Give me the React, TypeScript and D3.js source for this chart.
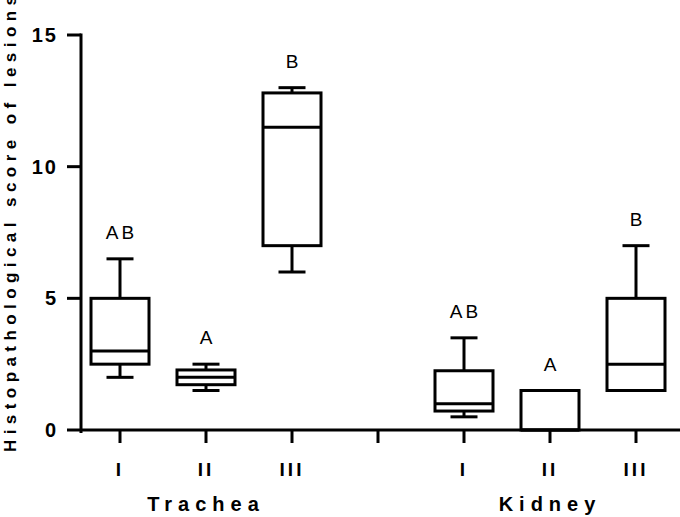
import React from "react";
import * as d3 from "d3";

const slots = ["I", "II", "III", "", "I", "II", "III"];
const groups = ["Trachea", "Kidney"];
const groupCenterSlot = [1, 5];
// box data: slot, whisker min, q1, median, q3, whisker max, letter
const boxSlot = [0, 1, 2, 4, 5, 6];
const wMin = [2, 1.5, 6, 0.5, 0, 1.5];
const q1 = [2.5, 1.72, 7, 0.72, 0, 1.5];
const med = [3, 2, 11.5, 1, 0, 2.5];
const q3 = [5, 2.28, 12.8, 2.25, 1.5, 5];
const wMax = [6.5, 2.5, 13, 3.5, 1.5, 7];
const letters = ["AB", "A", "B", "AB", "A", "B"];
const yTicks = [0, 5, 10, 15];

export default function App() {
  const W = 680, H = 517;
  const x = d3.scaleLinear().domain([0, 6]).range([120, 636]);
  const y = d3.scaleLinear().domain([0, 15]).range([430, 35]);
  const axisX = 81;
  const bw = 29, cw = 13.5;
  const sw = 3;
  const bold = { fontFamily: "Liberation Sans, Arial, sans-serif", fontWeight: 700 as const };
  return (
    <svg width={W} height={H} style={{ position: "absolute", left: 0, top: 0, background: "#fff" }}>
      <g stroke="#000" strokeWidth={sw} fill="none">
        {boxSlot.map((s, i) => {
          const cx = x(s);
          return (
            <g key={i}>
              {wMax[i] > q3[i] && (
                <>
                  <line x1={cx} x2={cx} y1={y(q3[i])} y2={y(wMax[i])} />
                  <line x1={cx - cw} x2={cx + cw} y1={y(wMax[i])} y2={y(wMax[i])} />
                </>
              )}
              {wMin[i] < q1[i] && (
                <>
                  <line x1={cx} x2={cx} y1={y(q1[i])} y2={y(wMin[i])} />
                  <line x1={cx - cw} x2={cx + cw} y1={y(wMin[i])} y2={y(wMin[i])} />
                </>
              )}
              <rect x={cx - bw} y={y(q3[i])} width={bw * 2} height={y(q1[i]) - y(q3[i])} fill="#fff" />
              <line x1={cx - bw} x2={cx + bw} y1={y(med[i])} y2={y(med[i])} />
            </g>
          );
        })}
        <line x1={axisX} x2={axisX} y1={y(15)} y2={y(0) + sw / 2} strokeLinecap="square" />
        <line x1={axisX} x2={W} y1={y(0)} y2={y(0)} />
        {yTicks.map((t) => (
          <line key={t} x1={axisX - 14} x2={axisX} y1={y(t)} y2={y(t)} />
        ))}
        {slots.map((_, i) => (
          <line key={i} x1={x(i)} x2={x(i)} y1={y(0)} y2={y(0) + 13} />
        ))}
      </g>
      {boxSlot.map((s, i) => (
        <text
          key={i}
          x={x(s) + (letters[i].length > 1 ? 1.5 : 0)}
          y={y(wMax[i]) - 20}
          textAnchor="middle"
          fontFamily="Liberation Sans, Arial, sans-serif"
          fontSize={19}
          letterSpacing={letters[i].length > 1 ? 3 : 0}
        >
          {letters[i]}
        </text>
      ))}
      {yTicks.map((t) => (
        <text key={t} x={58} y={y(t) + 7} textAnchor="end" fontSize={20} letterSpacing={2} style={bold}>
          {String(t)}
        </text>
      ))}
      {slots.map((s, i) => (
        <text key={i} x={x(i)} y={476} textAnchor="middle" fontSize={19} letterSpacing={3} style={bold}>
          {s}
        </text>
      ))}
      {groups.map((g, i) => (
        <text key={g} x={x(groupCenterSlot[i])} y={511} textAnchor="middle" fontSize={20} letterSpacing={6} style={bold}>
          {g}
        </text>
      ))}
      <text
        transform="translate(16,452) rotate(-90)"
        x={0}
        y={0}
        fontSize={17}
        textLength={456}
        lengthAdjust="spacing"
        style={bold}
      >
        Histopathological score of lesions
      </text>
    </svg>
  );
}
